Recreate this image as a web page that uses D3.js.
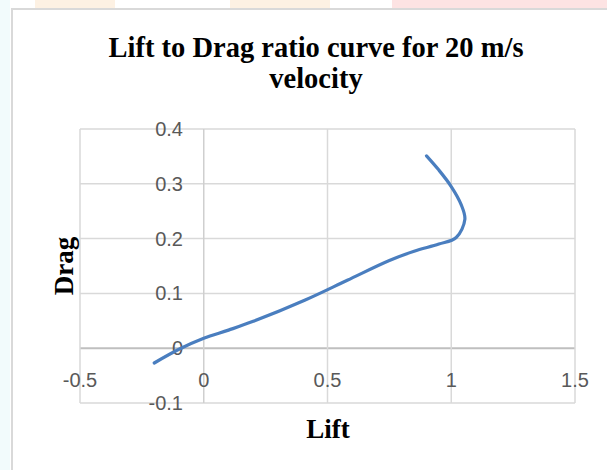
<!DOCTYPE html>
<html><head><meta charset="utf-8">
<script src="https://cdn.jsdelivr.net/npm/d3@7"></script>
<style>body{margin:0;background:#fff}svg{display:block}</style>
</head><body>
<script>
const lift = [-0.2, -0.1, 0, 0.1, 0.2, 0.41, 0.58, 0.75, 0.85, 0.95, 1.02, 1.055, 1.04, 1.0, 0.95, 0.9];
const drag = [-0.027, -0.002, 0.018, 0.033, 0.049, 0.088, 0.124, 0.16, 0.177, 0.19, 0.202, 0.235, 0.262, 0.295, 0.325, 0.351];
const xTicks = [-0.5, 0, 0.5, 1, 1.5];
const yTicks = [-0.1, 0, 0.1, 0.2, 0.3, 0.4];
const titleLines = ["Lift to Drag ratio curve for 20 m/s", "velocity"];
const xTitle = "Lift", yTitle = "Drag";

const W = 607, H = 470;
const svg = d3.select("body").append("svg").attr("width", W).attr("height", H);

// background decorations
svg.append("rect").attr("x",0).attr("y",0).attr("width",10).attr("height",H).attr("fill","#f2fbfc");
svg.append("rect").attr("x",35).attr("y",0).attr("width",80).attr("height",8).attr("fill","#fdf1e3");
svg.append("rect").attr("x",230).attr("y",0).attr("width",100).attr("height",8).attr("fill","#fdf1e3");
svg.append("rect").attr("x",392).attr("y",0).attr("width",215).attr("height",8).attr("fill","#fde3e3");
// chart border
svg.append("rect").attr("x",12).attr("y",9).attr("width",W+10).attr("height",H).attr("fill","#fff").attr("stroke","#d9d9d9").attr("stroke-width",2);

const x = d3.scaleLinear().domain([-0.5, 1.5]).range([80, 575]);
const y = d3.scaleLinear().domain([-0.1, 0.4]).range([403, 129]);

// gridlines
svg.append("g").selectAll("line").data(yTicks).join("line")
  .attr("x1", x(-0.5)).attr("x2", x(1.5)).attr("y1", d=>y(d)).attr("y2", d=>y(d))
  .attr("stroke", d => d===0 ? "#bfbfbf" : "#d9d9d9").attr("stroke-width", d => d===0 ? 2 : 1.5);
svg.append("g").selectAll("line").data(xTicks).join("line")
  .attr("y1", y(-0.1)).attr("y2", y(0.4)).attr("x1", d=>x(d)).attr("x2", d=>x(d))
  .attr("stroke", d => d===0 ? "#cfcfcf" : "#d9d9d9").attr("stroke-width", 1.5);

// tick labels
svg.append("g").selectAll("text").data(yTicks).join("text")
  .attr("x", 183).attr("y", d=>y(d)).attr("dy","0.35em").attr("text-anchor","end")
  .attr("font-family","Liberation Sans, Arial, sans-serif").attr("font-size",20).attr("fill","#595959")
  .text(d => String(d));
svg.append("g").selectAll("text").data(xTicks).join("text")
  .attr("x", d=>x(d)).attr("y", 380).attr("dy","0.35em").attr("text-anchor","middle")
  .attr("font-family","Liberation Sans, Arial, sans-serif").attr("font-size",20).attr("fill","#595959")
  .text(d => String(d));

// line
const pts = lift.map((v,i)=>[v, drag[i]]);
svg.append("path").datum(pts)
  .attr("d", d3.line().x(d=>x(d[0])).y(d=>y(d[1])).curve(d3.curveCatmullRom.alpha(0.5)))
  .attr("fill","none").attr("stroke","#4a7ebf").attr("stroke-width",3.2).attr("stroke-linecap","round");

// titles
const serif = "Liberation Serif, Times New Roman, serif";
svg.append("g").selectAll("text").data(titleLines).join("text")
  .attr("x", 316).attr("y", (d,i)=>57 + i*31).attr("text-anchor","middle")
  .attr("font-family", serif).attr("font-weight","bold").attr("font-size",28.5).attr("fill","#000")
  .text(d=>d);
svg.append("text").attr("x", 328).attr("y", 438).attr("text-anchor","middle")
  .attr("font-family", serif).attr("font-weight","bold").attr("font-size",27).text(xTitle);
svg.append("text").attr("transform","translate(73,266) rotate(-90)").attr("text-anchor","middle")
  .attr("font-family", serif).attr("font-weight","bold").attr("font-size",27).text(yTitle);
</script>
</body></html>
